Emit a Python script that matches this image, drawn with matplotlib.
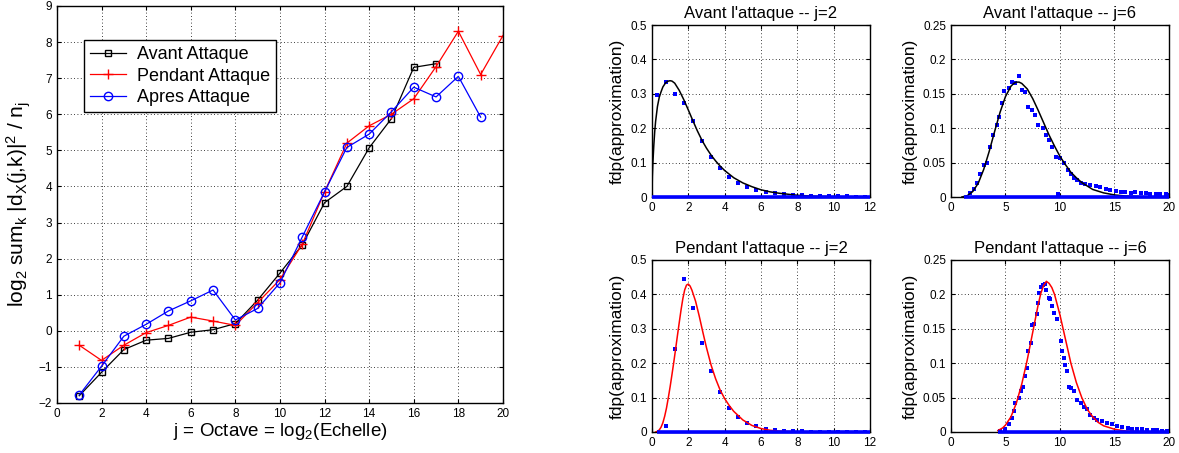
import matplotlib
matplotlib.use("Agg")
import matplotlib.pyplot as plt

plt.rcParams['font.family'] = ['Liberation Sans', 'DejaVu Sans']
plt.rcParams['mathtext.fontset'] = 'custom'
plt.rcParams['mathtext.rm'] = 'Liberation Sans'
plt.rcParams['mathtext.it'] = 'Liberation Sans:italic'

# --- main plot: log2 of mean energy per octave ---
octaves_avant = list(range(1, 18))
avant = [-1.8, -1.15, -0.52, -0.26, -0.21, -0.04, 0.03, 0.2, 0.85, 1.6,
         2.38, 3.55, 4.0, 5.07, 5.88, 7.3, 7.4]
octaves_pendant = list(range(1, 21))
pendant = [-0.4, -0.82, -0.4, -0.05, 0.15, 0.38, 0.27, 0.15, 0.78, 1.42,
           2.4, 3.85, 5.2, 5.68, 6.0, 6.43, 7.32, 8.3, 7.1, 8.18]
octaves_apres = list(range(1, 20))
apres = [-1.78, -0.98, -0.15, 0.18, 0.55, 0.83, 1.13, 0.3, 0.62, 1.33,
         2.6, 3.85, 5.08, 5.45, 6.07, 6.75, 6.48, 7.05, 5.92]

# --- Avant l'attaque, j=2 ---
av2_dot_x = [0.25, 0.75, 1.25, 1.75, 2.25, 2.75, 3.25, 3.75, 4.25, 4.75, 5.25, 5.75,
             6.25, 6.75, 7.25, 7.75, 8.25, 8.75, 9.25, 9.75, 10.25, 10.75, 11.25, 11.75]
av2_dot_y = [0.297, 0.335, 0.30, 0.273, 0.22, 0.163, 0.115, 0.083, 0.057, 0.04, 0.029, 0.02,
             0.014, 0.011, 0.008, 0.006, 0.005, 0.004, 0.003, 0.003, 0.002, 0.002, 0.001, 0.001]
av2_fit_x = [0, 0.02, 0.05, 0.1, 0.15, 0.2, 0.3, 0.4, 0.5, 0.6, 0.75, 0.9, 1.0, 1.1, 1.25,
             1.5, 1.75, 2.0, 2.25, 2.5, 2.75, 3.0, 3.25, 3.5, 3.75, 4.0, 4.5, 5.0, 5.5,
             6.0, 6.5, 7.0, 8.0, 9.0, 10.0, 12.0]
av2_fit_y = [0, 0.06, 0.1, 0.15, 0.19, 0.22, 0.263, 0.29, 0.306, 0.32, 0.332, 0.337,
             0.338, 0.337, 0.331, 0.31, 0.283, 0.253, 0.222, 0.192, 0.165, 0.142, 0.122,
             0.105, 0.09, 0.077, 0.056, 0.041, 0.03, 0.021, 0.015, 0.011, 0.005, 0.002,
             0.001, 0.0]
av2_base = (0, 12)

# --- Avant l'attaque, j=6 ---
av6_dot_x = [1.78, 2.08, 2.39, 2.7, 3.0, 3.3, 3.6, 3.9, 4.2, 4.4, 4.7, 4.9, 5.3, 5.6,
             5.9, 6.2, 6.5, 6.8, 7.1, 7.4, 7.7, 8.0, 8.4, 8.7, 9.0, 9.3, 9.6, 9.8,
             10.0, 10.4, 10.7, 11.0, 11.3, 11.6, 11.9, 12.3, 12.8, 13.3, 13.7, 14.2,
             14.6, 15.1, 15.6, 16.0, 16.5, 16.9, 17.4, 17.9, 18.3, 18.8, 19.2, 19.7, 19.9]
av6_dot_y = [0.006, 0.011, 0.02, 0.034, 0.046, 0.05, 0.073, 0.09, 0.104, 0.117, 0.136,
             0.154, 0.158, 0.167, 0.165, 0.176, 0.155, 0.153, 0.131, 0.126, 0.119, 0.104,
             0.1, 0.09, 0.083, 0.073, 0.058, 0.005, 0.056, 0.049, 0.039, 0.034, 0.027,
             0.024, 0.02, 0.019, 0.017, 0.016, 0.015, 0.012, 0.01, 0.009, 0.008, 0.007,
             0.006, 0.007, 0.006, 0.006, 0.005, 0.004, 0.004, 0.004, 0.003]
av6_fit_x = [1.0, 1.5, 2.0, 2.5, 3.0, 3.5, 4.0, 4.5, 5.0, 5.5, 5.75, 6.0, 6.25, 6.5, 7.0,
             7.5, 8.0, 8.5, 9.0, 9.5, 10.0, 10.5, 11.0, 11.5, 12.0, 12.5, 13.0, 14.0,
             15.0, 16.0, 18.0, 20.0]
av6_fit_y = [0, 0.002, 0.008, 0.02, 0.04, 0.066, 0.095, 0.123, 0.146, 0.161, 0.165,
             0.167, 0.167, 0.165, 0.157, 0.143, 0.126, 0.108, 0.09, 0.074, 0.059, 0.047,
             0.036, 0.028, 0.021, 0.016, 0.011, 0.006, 0.003, 0.0015, 0.0003, 0.0]
av6_base = (1.2, 20)

# --- Pendant l'attaque, j=2 ---
pe2_dot_x = [0.75, 1.25, 1.75, 2.25, 2.75, 3.25, 3.75, 4.25, 4.75, 5.25, 5.75, 6.25,
             6.75, 7.25, 7.75, 8.25, 8.75, 9.25, 9.75, 10.25, 10.75, 11.25, 11.75]
pe2_dot_y = [0.018, 0.24, 0.445, 0.36, 0.258, 0.178, 0.115, 0.071, 0.044, 0.027, 0.016,
             0.01, 0.006, 0.004, 0.003, 0.002, 0.001, 0.001, 0.001, 0.001, 0.001, 0.001, 0.001]
pe2_fit_x = [0.2, 0.3, 0.4, 0.5, 0.6, 0.7, 0.8, 0.9, 1.0, 1.1, 1.2, 1.3, 1.4, 1.5, 1.6,
             1.7, 1.8, 1.9, 2.0, 2.1, 2.2, 2.4, 2.6, 2.8, 3.0, 3.25, 3.5, 3.75, 4.0,
             4.25, 4.5, 5.0, 5.5, 6.0, 6.5, 7.0, 8.0, 10.0, 12.0]
pe2_fit_y = [0.0, 0.002, 0.006, 0.014, 0.027, 0.046, 0.07, 0.1, 0.132, 0.167, 0.203,
             0.241, 0.28, 0.318, 0.355, 0.388, 0.413, 0.427, 0.43, 0.424, 0.412, 0.38,
             0.337, 0.29, 0.245, 0.195, 0.155, 0.122, 0.097, 0.077, 0.06, 0.035, 0.019,
             0.01, 0.005, 0.0025, 0.0005, 0.0, 0.0]
pe2_base = (0.25, 12)

# --- Pendant l'attaque, j=6 ---
pe6_dot_x = [4.5, 5.0, 5.3, 5.6, 5.75, 5.9, 6.2, 6.4, 6.6, 6.8, 7.0, 7.1, 7.3, 7.4, 7.6,
             7.85, 8.0, 8.1, 8.3, 8.45, 8.6, 8.7, 8.95, 9.1, 9.3, 9.45, 9.75, 10.05, 10.2,
             10.35, 10.5, 10.65, 10.8, 11.05, 11.3, 11.6, 11.9, 12.2, 12.5, 12.8, 13.1,
             13.4, 13.9, 14.3, 14.8, 15.25, 15.7, 16.2, 16.6, 17.1, 17.5, 18.0, 18.5,
             18.9, 19.4, 19.8]
pe6_dot_y = [0.002, 0.005, 0.011, 0.02, 0.03, 0.042, 0.05, 0.06, 0.066, 0.081, 0.093,
             0.117, 0.13, 0.156, 0.157, 0.171, 0.188, 0.202, 0.21, 0.214, 0.215, 0.207,
             0.195, 0.193, 0.183, 0.173, 0.164, 0.132, 0.117, 0.108, 0.098, 0.088, 0.066,
             0.064, 0.059, 0.047, 0.042, 0.037, 0.033, 0.025, 0.021, 0.018, 0.016, 0.013,
             0.011, 0.008, 0.007, 0.006, 0.005, 0.004, 0.004, 0.003, 0.003, 0.003, 0.002, 0.002]
pe6_fit_x = [4.3, 4.75, 5.0, 5.5, 6.0, 6.5, 7.0, 7.5, 8.0, 8.25, 8.5, 8.75, 9.0, 9.25, 9.5,
             10.0, 10.5, 11.0, 11.5, 12.0, 12.5, 13.0, 13.5, 14.0, 15.0, 16.0, 17.0, 20.0]
pe6_fit_y = [0.002, 0.006, 0.01, 0.022, 0.042, 0.07, 0.105, 0.145, 0.185, 0.202, 0.213,
             0.219, 0.216, 0.21, 0.2, 0.17, 0.135, 0.1, 0.072, 0.05, 0.033, 0.022, 0.014,
             0.009, 0.004, 0.0015, 0.0005, 0.0]
pe6_base = (4.3, 20)


def matlab_style(ax, fs=8.5):
    ax.grid(True, linestyle=(0, (1, 3)), color='black', linewidth=0.6)
    ax.set_axisbelow(True)
    ax.tick_params(direction='in', length=3, labelsize=fs, top=True, right=True)
    for s in ax.spines.values():
        s.set_linewidth(1.0)


def pdf_panel(ax, title, dot_x, dot_y, fit_x, fit_y, base, fit_color, xmax, ymax, yticks):
    ax.plot(base, [0, 0], color='blue', linewidth=2.6, solid_capstyle='butt',
            clip_on=False, zorder=4)
    ax.plot(dot_x, dot_y, linestyle='none', marker='s', markersize=2.2,
            color='blue', markeredgewidth=0)
    ax.plot(fit_x, fit_y, color=fit_color, linewidth=1.1)
    ax.set_xlim(0, xmax)
    ax.set_ylim(0, ymax)
    ax.set_yticks(yticks)
    ax.set_yticklabels([('%g' % t) for t in yticks])
    ax.set_title(title, fontsize=12, pad=5)
    ax.set_ylabel('fdp(approximation)', fontsize=12.5, labelpad=4)
    matlab_style(ax)


fig = plt.figure(figsize=(11.79, 4.53), dpi=100)

ax = fig.add_axes([0.0483, 0.1104, 0.3783, 0.8764])
ax.plot(octaves_avant, avant, color='black', marker='s', markersize=5,
        markerfacecolor='none', linewidth=0.9, label='Avant Attaque')
ax.plot(octaves_pendant, pendant, color='red', marker='+', markersize=7,
        linewidth=0.9, label='Pendant Attaque')
ax.plot(octaves_apres, apres, color='blue', marker='o', markersize=6,
        markerfacecolor='none', linewidth=0.9, label='Apres Attaque')
ax.set_xlim(0, 20)
ax.set_ylim(-2, 9)
ax.set_xticks(range(0, 21, 2))
ax.set_yticks(range(-2, 10))
matlab_style(ax)
ax.set_xlabel(r'j = Octave = log$_\mathrm{2}$(Echelle)', fontsize=13.5, labelpad=1)
ax.set_ylabel(r'log$_\mathrm{2}$ sum$_\mathrm{k}$ |d$_\mathrm{X}$(j,k)|$^\mathrm{2}$ / n$_\mathrm{j}$',
              fontsize=15, labelpad=4)
leg = ax.legend(loc='upper left', bbox_to_anchor=(0.06, 0.915), borderaxespad=0,
                fontsize=13, fancybox=False, edgecolor='black', framealpha=1,
                handlelength=2.0, handletextpad=0.6, labelspacing=0.25, borderpad=0.35)
leg.get_frame().set_linewidth(1.0)

ax1 = fig.add_axes([0.553, 0.5651, 0.1849, 0.3797])
pdf_panel(ax1, "Avant l'attaque -- j=2", av2_dot_x, av2_dot_y, av2_fit_x, av2_fit_y,
          av2_base, 'black', 12, 0.5, [0, 0.1, 0.2, 0.3, 0.4, 0.5])
ax2 = fig.add_axes([0.8066, 0.5651, 0.1849, 0.3797])
pdf_panel(ax2, "Avant l'attaque -- j=6", av6_dot_x, av6_dot_y, av6_fit_x, av6_fit_y,
          av6_base, 'black', 20, 0.25, [0, 0.05, 0.1, 0.15, 0.2, 0.25])
ax3 = fig.add_axes([0.553, 0.0464, 0.1849, 0.3797])
pdf_panel(ax3, "Pendant l'attaque -- j=2", pe2_dot_x, pe2_dot_y, pe2_fit_x, pe2_fit_y,
          pe2_base, 'red', 12, 0.5, [0, 0.1, 0.2, 0.3, 0.4, 0.5])
ax4 = fig.add_axes([0.8066, 0.0464, 0.1849, 0.3797])
pdf_panel(ax4, "Pendant l'attaque -- j=6", pe6_dot_x, pe6_dot_y, pe6_fit_x, pe6_fit_y,
          pe6_base, 'red', 20, 0.25, [0, 0.05, 0.1, 0.15, 0.2, 0.25])

fig.savefig('out.png', dpi=100)
plt.close(fig)
